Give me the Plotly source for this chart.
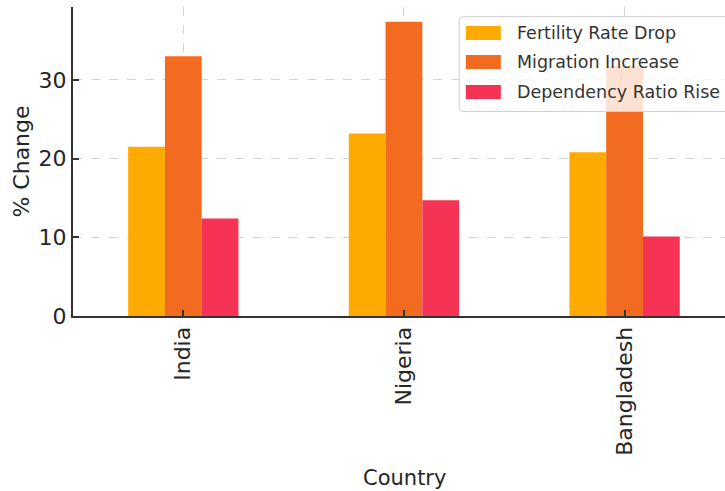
import plotly.graph_objects as go

countries = ["India", "Nigeria", "Bangladesh"]
fertility_drop = [21.5, 23.2, 20.8]
migration_increase = [33.0, 37.4, 31.8]
dependency_rise = [12.4, 14.7, 10.1]

series_names = ["Fertility Rate Drop", "Migration Increase", "Dependency Ratio Rise"]
series_colors = ["#FFAA00", "#F26B21", "#F53355"]
series_values = [fertility_drop, migration_increase, dependency_rise]

W, H = 725, 491
# plot area in pixels
PX0, PX1 = 73.4, 725.0
PY0, PY1 = 7.0, 316.0
FONT = "DejaVu Sans"
TXT = "#262626"


def px(x):
    return (x - PX0) / (PX1 - PX0)


def py(y):
    return (PY1 - y) / (PY1 - PY0)


def rounded_box(x0, y0, x1, y1, r):
    """SVG path (paper coords) for a rectangle with rounded corners, given in pixels."""
    pts = [
        ("M", x0 + r, y0), ("L", x1 - r, y0), ("Q", x1, y0, x1, y0 + r),
        ("L", x1, y1 - r), ("Q", x1, y1, x1 - r, y1),
        ("L", x0 + r, y1), ("Q", x0, y1, x0, y1 - r),
        ("L", x0, y0 + r), ("Q", x0, y0, x0 + r, y0),
    ]
    parts = []
    for p in pts:
        cmd, coords = p[0], p[1:]
        xy = []
        for i in range(0, len(coords), 2):
            xy.append(f"{px(coords[i]):.5f},{py(coords[i + 1]):.5f}")
        parts.append(cmd + " " + " ".join(xy))
    return " ".join(parts) + " Z"


fig = go.Figure()
for name, color, vals in zip(series_names, series_colors, series_values):
    fig.add_trace(go.Bar(
        x=countries, y=vals, name=name,
        marker=dict(color=color, line=dict(width=0)),
        showlegend=False,
    ))

shapes = []
annotations = []

# legend box
shapes.append(dict(
    type="path", xref="paper", yref="paper", layer="above",
    path=rounded_box(459.3, 16.7, 745, 111.5, 4),
    fillcolor="rgba(255,255,255,0.8)",
    line=dict(color="#d0d0d0", width=1),
))
row_centers = [33, 62, 92]
for name, color, yc in zip(series_names, series_colors, row_centers):
    shapes.append(dict(
        type="rect", xref="paper", yref="paper", layer="above",
        x0=px(466), x1=px(501), y0=py(yc + 7), y1=py(yc - 7),
        fillcolor=color, line=dict(width=0),
    ))
    annotations.append(dict(
        xref="paper", yref="paper", x=px(515.5), y=py(yc),
        xanchor="left", yanchor="middle", showarrow=False,
        text=name, font=dict(family=FONT, size=17.5, color="#333333"),
    ))

# axis titles
annotations.append(dict(
    xref="paper", yref="paper", x=px(404.5), y=py(478),
    xanchor="center", yanchor="middle", showarrow=False,
    text="Country", font=dict(family=FONT, size=21, color=TXT),
))
annotations.append(dict(
    xref="paper", yref="paper", x=px(22), y=py(162),
    xanchor="center", yanchor="middle", showarrow=False, textangle=-90,
    text="% Change", font=dict(family=FONT, size=22, color=TXT),
))

fig.update_layout(
    width=W, height=H,
    margin=dict(l=PX0, r=W - PX1, t=PY0, b=H - PY1, pad=0),
    plot_bgcolor="white", paper_bgcolor="white",
    barmode="group", bargap=0.5, bargroupgap=0,
    shapes=shapes, annotations=annotations,
    font=dict(family=FONT, color=TXT),
)
fig.update_xaxes(
    range=[-0.5, -0.5 + (PX1 - PX0) / 220.5],
    showline=True, linecolor="#333333", linewidth=2,
    ticks="inside", ticklen=6, tickcolor="#333333", tickwidth=1.5,
    tickangle=-90, tickfont=dict(family=FONT, size=22, color=TXT),
    showgrid=True, gridcolor="#d4d4d4", griddash="dash", gridwidth=1,
    zeroline=False, automargin=False,
)
fig.update_yaxes(
    range=[0, 39.27], tickvals=[0, 10, 20, 30],
    showline=True, linecolor="#333333", linewidth=2,
    ticks="inside", ticklen=6, tickcolor="#333333", tickwidth=1.5,
    tickfont=dict(family=FONT, size=22, color=TXT),
    showgrid=True, gridcolor="#d4d4d4", griddash="dash", gridwidth=1,
    zeroline=False, automargin=False,
)

fig.write_html("out.html")
